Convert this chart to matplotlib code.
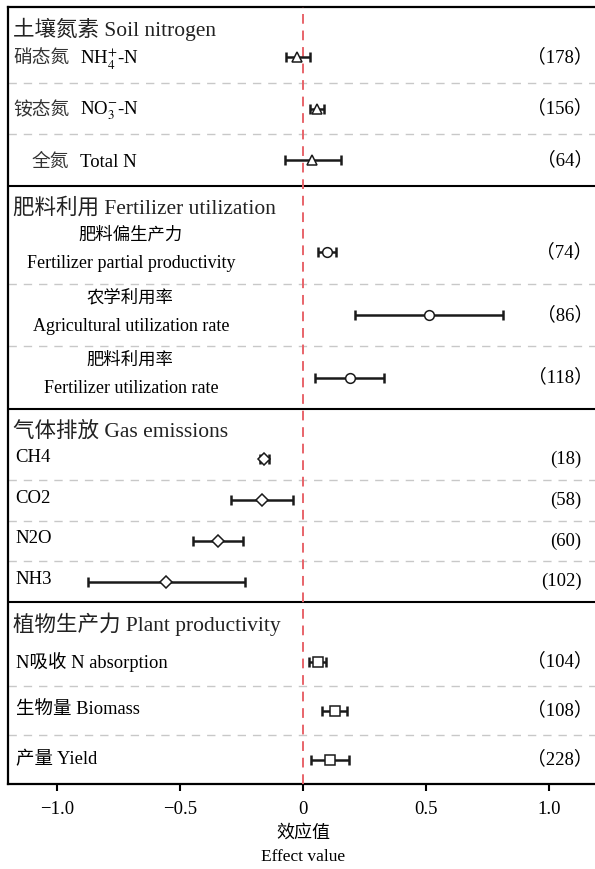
import matplotlib
matplotlib.use("Agg")
import matplotlib.pyplot as plt
import matplotlib.transforms as mtransforms

plt.rcParams['font.family'] = ['Liberation Serif', 'Noto Sans CJK SC']
plt.rcParams['mathtext.fontset'] = 'stix'

# ---- data ----
section_titles = ["土壤氮素 Soil nitrogen", "肥料利用 Fertilizer utilization",
                  "气体排放 Gas emissions", "植物生产力 Plant productivity"]

soil_cn = ["硝态氮", "铵态氮", "全氮"]
soil_en = [r"NH$_4^{+}$-N", r"NO$_3^{-}$-N", "Total N"]
soil_mean = [-0.025, 0.057, 0.037]
soil_lo = [-0.07, 0.03, -0.073]
soil_hi = [0.03, 0.085, 0.155]
soil_n = ["（178）", "（156）", "（64）"]

fert_cn = ["肥料偏生产力", "农学利用率", "肥料利用率"]
fert_en = ["Fertilizer partial productivity", "Agricultural utilization rate",
           "Fertilizer utilization rate"]
fert_mean = [0.097, 0.512, 0.191]
fert_lo = [0.06, 0.211, 0.049]
fert_hi = [0.134, 0.813, 0.329]
fert_n = ["（74）", "（86）", "（118）"]

gas_labels = ["CH4", "CO2", "N2O", "NH3"]
gas_mean = [-0.158, -0.166, -0.345, -0.557]
gas_lo = [-0.175, -0.293, -0.447, -0.874]
gas_hi = [-0.14, -0.041, -0.244, -0.236]
gas_n = ["(18)", "(58)", "(60)", "(102)"]

plant_labels = ["N吸收 N absorption", "生物量 Biomass", "产量 Yield"]
plant_mean = [0.06, 0.13, 0.11]
plant_lo = [0.025, 0.077, 0.032]
plant_hi = [0.093, 0.178, 0.187]
plant_n = ["（104）", "（108）", "（228）"]

xticks = [-1.0, -0.5, 0, 0.5, 1.0]
xtick_labels = ["\u22121.0", "\u22120.5", "0", "0.5", "1.0"]

# ---- layout (vertical units ~ pixels, top down) ----
top = 7
header_h = [24, 35, 30, 35]
row_h = [51.7, 62.7, 40.75, 49]
n_rows = [3, 3, 4, 3]
markers = ['^', 'o', 'D', 's']
msizes = [6.5, 7, 6.5, 6.5]

fig = plt.figure(figsize=(5.95, 8.69), dpi=100)
W, H = 595, 869
ax = fig.add_axes([8 / W, 1 - 784 / H, 1 - 8 / W, (784 - 7) / H])

sec_tops = []
row_centers = []
y = top
for s in range(4):
    sec_tops.append(y)
    y += header_h[s]
    centers = []
    for r in range(n_rows[s]):
        centers.append(y + row_h[s] / 2)
        y += row_h[s]
        if r < n_rows[s] - 1:
            ax.axhline(y, color='#c8c8c8', lw=1.0, ls=(0, (6, 5)), zorder=1)
    row_centers.append(centers)
    if s < 3:
        ax.axhline(y, color='black', lw=1.5, zorder=2)
bottom = y

means = [soil_mean, fert_mean, gas_mean, plant_mean]
los = [soil_lo, fert_lo, gas_lo, plant_lo]
his = [soil_hi, fert_hi, gas_hi, plant_hi]
counts = [soil_n, fert_n, gas_n, plant_n]

for s in range(4):
    yc = row_centers[s]
    m = means[s]
    err = [[mi - lo for mi, lo in zip(m, los[s])], [hi - mi for mi, hi in zip(m, his[s])]]
    ax.errorbar(m, yc, xerr=err, fmt='none', ecolor='#1a1a1a', elinewidth=1.8,
                capsize=3.5, capthick=1.8, zorder=4)
    ax.plot(m, yc, ls='none', marker=markers[s], ms=msizes[s], mfc='white',
            mec='#1a1a1a', mew=1.1, zorder=5)

ax.axvline(0, color='#e8646a', lw=1.4, ls=(0, (5, 3.5)), zorder=3)

trans = mtransforms.blended_transform_factory(ax.transAxes, ax.transData)

# section titles
for s in range(4):
    ax.text(0.009, sec_tops[s] + 22, section_titles[s], transform=trans,
            fontsize=15.5, va='center', ha='left', color='#222222')

# soil rows
soil_x = [0.010, 0.010, 0.040]
for i in range(3):
    ax.text(soil_x[i], row_centers[0][i] + 2, soil_cn[i], transform=trans,
            fontsize=13.5, va='center', ha='left', color='#333333')
    ax.text(0.1227, row_centers[0][i] + 2, soil_en[i], transform=trans,
            fontsize=13.5, va='center', ha='left')

# fertilizer rows
for i in range(3):
    yc = row_centers[1][i]
    ax.text(0.208, yc - 17, fert_cn[i], transform=trans, fontsize=12.5,
            va='center', ha='center')
    ax.text(0.21, yc + 11, fert_en[i], transform=trans, fontsize=13,
            va='center', ha='center')

# gas rows
for i, lab in enumerate(gas_labels):
    ax.text(0.013, row_centers[2][i] - 2, lab, transform=trans, fontsize=13.5,
            va='center', ha='left')

# plant rows
for i, lab in enumerate(plant_labels):
    ax.text(0.013, row_centers[3][i], lab, transform=trans, fontsize=13.3,
            va='center', ha='left')

# sample sizes
for s in range(4):
    for i, c in enumerate(counts[s]):
        xr = 0.977 if s == 2 else 0.996
        ax.text(xr, row_centers[s][i], c, transform=trans, fontsize=13.5,
                va='center', ha='right')

ax.set_xlim((8 - 303) / 246, (595 - 303) / 246)
ax.set_ylim(bottom, top)
ax.set_yticks([])
ax.set_xticks(xticks)
ax.set_xticklabels(xtick_labels, fontsize=13.5)
ax.tick_params(axis='x', direction='out', length=5, width=1.5, pad=7)
ax.spines['right'].set_visible(False)
for sp in ['left', 'top', 'bottom']:
    ax.spines[sp].set_linewidth(1.6)

fig.text(303 / W, 1 - 833 / H, "效应值", ha='center', va='center', fontsize=13)
fig.text(303 / W, 1 - 857 / H, "Effect value", ha='center', va='center', fontsize=12.5)

fig.savefig("out.png", dpi=100)
